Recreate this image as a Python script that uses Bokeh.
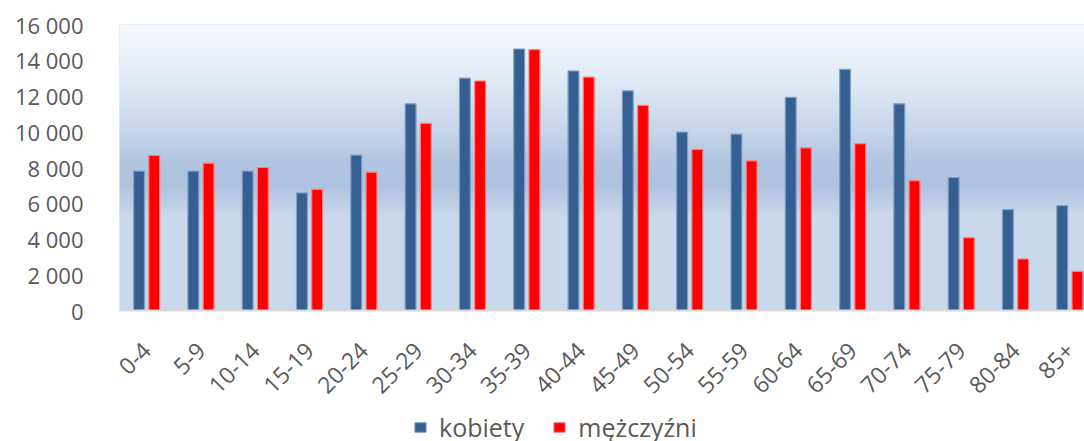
from math import pi
from bokeh.plotting import figure
from bokeh.layouts import column
from bokeh.models import (ColumnDataSource, Range1d, FixedTicker, Legend, LegendItem,
                          BoxAnnotation)
from bokeh.transform import dodge
from bokeh.embed import file_html
from bokeh.resources import INLINE

# ---- data ----
age_groups = ["0-4", "5-9", "10-14", "15-19", "20-24", "25-29", "30-34", "35-39", "40-44",
              "45-49", "50-54", "55-59", "60-64", "65-69", "70-74", "75-79", "80-84", "85+"]
kobiety = [7800, 7800, 7800, 6580, 8690, 11560, 13000, 14630, 13400,
           12290, 9980, 9870, 11920, 13490, 11560, 7440, 5640, 5870]
mezczyzni = [8670, 8240, 8000, 6780, 7740, 10470, 12840, 14590, 13060,
             11470, 9010, 8370, 9100, 9340, 7270, 4070, 2880, 2190]
y_ticks = [0, 2000, 4000, 6000, 8000, 10000, 12000, 14000, 16000]
series_names = ["kobiety", "mężczyźni"]

FONT = "Open Sans"
GREY = "#595959"
BLUE = "#355f91"
RED = "#ff0000"

src = ColumnDataSource(dict(x=list(range(len(age_groups))), kobiety=kobiety,
                            mezczyzni=mezczyzni))

p = figure(width=1084, height=412, output_backend="svg", toolbar_location=None,
           x_range=Range1d(-0.5, 17.27), y_range=Range1d(0, 16000),
           min_border_left=119, min_border_right=0, min_border_top=24, min_border_bottom=102)
p.outline_line_color = None
p.background_fill_color = "#c9d8eb"
p.border_fill_color = "white"
p.xgrid.visible = False
p.ygrid.visible = False

# background gradient (decoration)
stops = [(0, (0xc9, 0xd8, 0xeb)), (5300, (0xc9, 0xd8, 0xeb)), (6100, (0xbc, 0xcd, 0xe5)),
         (7100, (0xad, 0xc2, 0xdf)), (8300, (0xb2, 0xc6, 0xe1)), (10300, (0xc8, 0xd7, 0xeb)),
         (13000, (0xe1, 0xeb, 0xf6)), (16000, (0xf5, 0xf8, 0xfc))]
def grad(v):
    for (a, ca), (b, cb) in zip(stops[:-1], stops[1:]):
        if a <= v <= b:
            t = (v - a) / (b - a)
            c = tuple(int(round(ca[i] + (cb[i] - ca[i]) * t)) for i in range(3))
            return "#%02x%02x%02x" % c
    return "#%02x%02x%02x" % stops[-1][1]

step = 200
v = 5000
while v < 16000:
    p.add_layout(BoxAnnotation(bottom=v, top=min(v + step + 40, 16000),
                               fill_color=grad(v + step / 2), fill_alpha=1.0,
                               line_color=None, level="underlay"))
    v += step

p.vbar(x=dodge("x", -0.14, range=p.x_range), top="kobiety", width=0.2, source=src,
       fill_color=BLUE, line_color="#7f9ec8", line_width=1.2)
p.vbar(x=dodge("x", 0.14, range=p.x_range), top="mezczyzni", width=0.2, source=src,
       fill_color=RED, line_color="#ff7f7f", line_width=1.2)

# axes
p.xaxis.ticker = FixedTicker(ticks=list(range(len(age_groups))))
p.xaxis.major_label_overrides = {i: g for i, g in enumerate(age_groups)}
p.xaxis.major_label_orientation = pi / 4
p.xaxis.major_tick_line_color = None
p.xaxis.minor_tick_line_color = None
p.xaxis.axis_line_color = "#d9d9d9"
p.xaxis.axis_line_width = 2
p.xaxis.major_label_standoff = 30
p.xaxis.major_label_text_font = FONT
p.xaxis.major_label_text_font_size = "23px"
p.xaxis.major_label_text_color = GREY

p.yaxis.ticker = FixedTicker(ticks=y_ticks)
p.yaxis.major_label_overrides = {t: f"{t:,}".replace(",", " ") for t in y_ticks}
p.yaxis.major_tick_line_color = None
p.yaxis.minor_tick_line_color = None
p.yaxis.axis_line_color = None
p.yaxis.major_label_standoff = 30
p.yaxis.major_label_text_font = FONT
p.yaxis.major_label_text_font_size = "22px"
p.yaxis.major_label_text_color = GREY

# legend strip below the chart (its proxy renderers lie far outside the visible range)
lg = figure(width=1084, height=29, output_backend="svg", toolbar_location=None,
            x_range=Range1d(-1001, -1000), y_range=Range1d(-200000, -199999),
            min_border_left=119, min_border_right=0, min_border_top=0, min_border_bottom=0,
            x_axis_type=None, y_axis_type=None)
lg.outline_line_color = None
lg.xgrid.visible = False
lg.ygrid.visible = False
k1 = lg.vbar(x="x", top="kobiety", width=0.2, source=src, fill_color=BLUE, line_color="#7f9ec8")
k2 = lg.vbar(x="x", top="mezczyzni", width=0.2, source=src, fill_color=RED, line_color="#ff7f7f")
legend = Legend(items=[LegendItem(label=series_names[0], renderers=[k1]),
                       LegendItem(label=series_names[1], renderers=[k2])],
                orientation="horizontal", location=(294, -3),
                glyph_width=14, glyph_height=12, label_standoff=12, spacing=28,
                padding=0, margin=0, border_line_color=None, background_fill_alpha=0,
                label_text_font=FONT, label_text_font_size="25px", label_text_color=GREY)
lg.add_layout(legend, "center")

open("out.html", "w").write(file_html(column(p, lg, spacing=0), INLINE))
